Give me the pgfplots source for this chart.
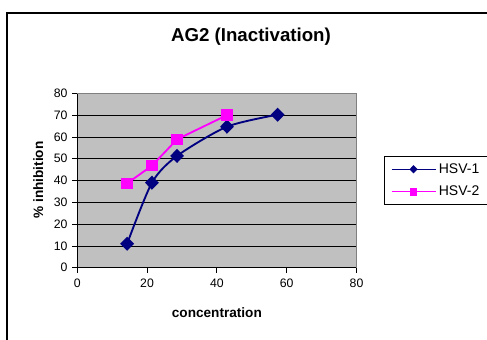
\documentclass[border=0pt]{standalone}
\usepackage{pgfplots}
\pgfplotsset{compat=1.18}
\usepackage{fontspec}
\setmainfont{Liberation Sans}
\definecolor{navy}{RGB}{0,0,128}
\definecolor{plotgray}{RGB}{192,192,192}
\definecolor{framegray}{RGB}{128,128,128}
\definecolor{hsvmag}{RGB}{255,0,255}
\begin{document}
\begin{tikzpicture}[x=0.75pt,y=0.75pt]
\path[use as bounding box] (0,0) rectangle (487,340);
\draw[black, line width=0.9pt] (7,0) -- (7,327) -- (486.5,327);
\node[font=\fontsize{14}{16}\selectfont\bfseries] at (251,303) {AG2 (Inactivation)};
\begin{axis}[
  at={(57.9pt,54.2pt)}, anchor=south west,
  scale only axis, width=209.5pt, height=130.8pt,
  xmin=0, xmax=80, ymin=0, ymax=80,
  xtick={0,20,...,80}, ytick={0,10,...,80},
  minor tick num=0,
  tick align=outside, major tick length=3.75pt,
  axis x line*=bottom, axis y line*=left,
  axis line style={-, black, line width=0.6pt},
  tick style={black, line width=0.6pt},
  axis background/.style={fill=plotgray},
  ymajorgrids, major grid style={black, line width=0.6pt},
  /pgf/number format/assume math mode=true,
  tick label style={font=\fontsize{9.2}{10}\selectfont},
  xticklabel style={yshift=-1pt},
  xlabel={concentration}, ylabel={\% inhibition},
  label style={font=\fontsize{10.2}{12}\selectfont\bfseries},
  xlabel style={at={(axis description cs:0.5,-0.258)}, anchor=center},
  ylabel style={at={(axis description cs:-0.139,0.503)}, anchor=center},
  legend style={at={(1.1,0.5)}, anchor=west, draw=black, line width=0.6pt, fill=white,
    font=\fontsize{10.5}{12}\selectfont, inner xsep=4.5pt, inner ysep=3pt,
    row sep=4pt, cells={anchor=west}},
  legend image code/.code={\draw[mark repeat=2,mark phase=2,line width=1pt,mark size=2.4pt] plot coordinates {(0pt,0pt)(16.5pt,0pt)(33pt,0pt)};},
  clip=false,
]
\draw[framegray, line width=0.6pt] (rel axis cs:0,1) -- (rel axis cs:1,1) -- (rel axis cs:1,0);
\addplot[navy, line width=1.4pt, smooth, tension=0.45, mark=diamond*, mark size=4.3pt, mark options={fill=navy, xscale=1.3}]
  coordinates {(14.3,11.0) (21.4,39.0) (28.6,51.3) (42.9,64.7) (57.4,70.2)};
\addlegendentry{HSV-1}
\addplot[hsvmag, line width=1.4pt, mark=square*, mark size=3.6pt, mark options={fill=hsvmag}]
  coordinates {(14.3,38.7) (21.4,46.8) (28.6,58.9) (42.9,70.0)};
\addlegendentry{HSV-2}
\end{axis}
\end{tikzpicture}
\end{document}
